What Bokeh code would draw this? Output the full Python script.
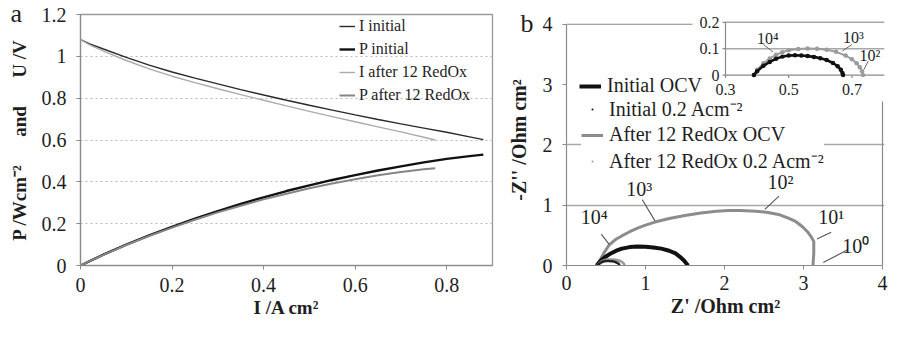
from bokeh.plotting import figure
from bokeh.layouts import row
from bokeh.models import (Range1d, FixedTicker, Legend, LegendItem, LabelSet,
                          ColumnDataSource, NumeralTickFormatter)
from bokeh.core.properties import value
from bokeh.embed import file_html
from bokeh.resources import INLINE

SERIF = "Liberation Serif"

# ---------------- Panel a data (I-V and power curves) ----------------
I_INIT = [0.00, 0.02, 0.05, 0.10, 0.15, 0.20, 0.25, 0.30, 0.35, 0.40, 0.45, 0.50,
          0.55, 0.60, 0.65, 0.70, 0.75, 0.80, 0.85, 0.88]
U_INIT = [1.080, 1.060, 1.035, 0.995, 0.958, 0.925, 0.896, 0.868, 0.841, 0.815, 0.790, 0.766,
          0.743, 0.720, 0.698, 0.677, 0.657, 0.637, 0.615, 0.602]
P_INIT = [0.000, 0.021, 0.052, 0.100, 0.144, 0.185, 0.224, 0.260, 0.294, 0.326, 0.356, 0.383,
          0.409, 0.432, 0.454, 0.474, 0.493, 0.510, 0.523, 0.530]
I_AFTER = [0.00, 0.02, 0.05, 0.10, 0.15, 0.20, 0.25, 0.30, 0.35, 0.40, 0.45, 0.50,
           0.55, 0.60, 0.65, 0.70, 0.75, 0.775]
U_AFTER = [1.080, 1.055, 1.025, 0.980, 0.940, 0.905, 0.874, 0.845, 0.817, 0.790, 0.763, 0.737,
           0.712, 0.687, 0.663, 0.639, 0.613, 0.600]
P_AFTER = [0.000, 0.021, 0.051, 0.098, 0.141, 0.181, 0.219, 0.254, 0.286, 0.316, 0.343, 0.369,
           0.392, 0.412, 0.431, 0.447, 0.460, 0.465]
A_SERIES = ["I initial", "P initial", "I after 12 RedOx", "P after 12 RedOx"]
A_XTICKS = [0, 0.2, 0.4, 0.6, 0.8]
A_XTICK_LABELS = ["0", "0.2", "0.4", "0.6", "0.8"]
A_YTICKS = [0, 0.2, 0.4, 0.6, 0.8, 1.0, 1.2]
A_YTICK_LABELS = ["0", "0.2", "0.4", "0.6", "0.8", "1", "1.2"]
A_XLABEL = "I /A cm\u00b2"
A_YLABEL = "P /Wcm\u207b\u00b2\u2003\u2002and\u2003\u2002U /V"
A_PANEL = "a"

# ---------------- Panel b data (impedance spectra) ----------------
ZRE_INIT_OCV = [0.38, 0.40, 0.42, 0.45, 0.50, 0.56, 0.63, 0.70, 0.80, 0.90, 1.00, 1.10,
                1.20, 1.30, 1.38, 1.44, 1.49, 1.52, 1.54]
ZIM_INIT_OCV = [0.00, 0.03, 0.06, 0.10, 0.15, 0.20, 0.245, 0.28, 0.305, 0.315, 0.312, 0.30,
                0.28, 0.245, 0.20, 0.14, 0.08, 0.03, 0.00]
ZRE_AFTER_OCV = [0.38, 0.42, 0.47, 0.54, 0.62, 0.70, 0.80, 0.90, 1.00, 1.12, 1.30, 1.50,
                 1.70, 1.90, 2.05, 2.20, 2.40, 2.55, 2.70, 2.80, 2.90, 2.98, 3.05, 3.10,
                 3.13, 3.13, 3.12]
ZIM_AFTER_OCV = [0.00, 0.08, 0.20, 0.34, 0.43, 0.49, 0.56, 0.62, 0.67, 0.72, 0.78, 0.83,
                 0.87, 0.90, 0.91, 0.91, 0.90, 0.88, 0.84, 0.79, 0.73, 0.65, 0.56, 0.47,
                 0.40, 0.20, 0.00]
ZRE_INIT_02 = [0.390, 0.400, 0.420, 0.440, 0.460, 0.480, 0.500, 0.520, 0.540, 0.560, 0.580,
               0.600, 0.620, 0.640, 0.655, 0.665, 0.670, 0.672]
ZIM_INIT_02 = [0.000, 0.015, 0.035, 0.050, 0.062, 0.070, 0.074, 0.075, 0.074, 0.072, 0.069,
               0.064, 0.057, 0.046, 0.034, 0.020, 0.008, 0.000]
ZRE_AFTER_02 = [0.390, 0.400, 0.420, 0.440, 0.460, 0.480, 0.500, 0.530, 0.560, 0.590, 0.620,
                0.650, 0.680, 0.700, 0.715, 0.725, 0.732, 0.735]
ZIM_AFTER_02 = [0.000, 0.020, 0.045, 0.063, 0.077, 0.087, 0.094, 0.099, 0.101, 0.100, 0.096,
                0.088, 0.074, 0.060, 0.045, 0.030, 0.015, 0.000]
B_SERIES = ["Initial OCV", "Initial 0.2 Acm\u207b\u00b2", "After 12 RedOx OCV",
            "After 12 RedOx 0.2 Acm\u207b\u00b2"]
B_TICKS = [0, 1, 2, 3, 4]
B_TICK_LABELS = ["0", "1", "2", "3", "4"]
B_GRID = [1, 2]
B_XLABEL = "Z' /Ohm cm\u00b2"
B_YLABEL = "-Z'' /Ohm cm\u00b2"
B_PANEL = "b"

# frequency annotations (main panel b)
FREQ_LABELS = ["10\u2074", "10\u00b3", "10\u00b2", "10\u00b9", "10\u2070"]
FREQ_LABEL_X = [0.35, 0.92, 2.71, 3.35, 3.66]
FREQ_LABEL_Y = [0.80, 1.26, 1.39, 0.80, 0.32]
FREQ_LEAD_X0 = [0.44, 0.96, 2.69, 3.35, 3.56]
FREQ_LEAD_Y0 = [0.52, 1.09, 1.15, 0.55, 0.26]
FREQ_LEAD_X1 = [0.54, 1.12, 2.51, 3.17, 3.25]
FREQ_LEAD_Y1 = [0.35, 0.74, 0.93, 0.44, 0.05]

# inset
INSET_XTICKS = [0.3, 0.5, 0.7]
INSET_XTICK_LABELS = ["0.3", "0.5", "0.7"]
INSET_YTICKS = [0, 0.1, 0.2]
INSET_YTICK_LABELS = ["0", "0.1", "0.2"]
INSET_FREQ_LABELS = ["10\u2074", "10\u00b3", "10\u00b2"]
INSET_LABEL_X = [0.434, 0.705, 0.757]
INSET_LABEL_Y = [0.140, 0.144, 0.074]
INSET_LEAD_X0 = [0.420, 0.700, 0.752]
INSET_LEAD_Y0 = [0.116, 0.116, 0.053]
INSET_LEAD_X1 = [0.450, 0.670, 0.738]
INSET_LEAD_Y1 = [0.088, 0.091, 0.021]

TXT = "#1e1e1e"
AXC = "#8a8a8a"


def style_axis(ax, ticks, labels, font_size, label_size, tick_standoff, label_standoff):
    ax.ticker = FixedTicker(ticks=ticks)
    ax.formatter = NumeralTickFormatter(format="0.[0]")
    ax.major_label_overrides = dict(zip(ticks, labels))
    ax.minor_tick_line_color = None
    ax.major_tick_in = 0
    ax.major_tick_out = 4
    ax.major_tick_line_color = AXC
    ax.axis_line_color = AXC
    ax.axis_line_width = 1.2
    ax.major_label_text_font = SERIF
    ax.major_label_text_font_size = font_size
    ax.major_label_text_color = TXT
    ax.major_label_standoff = tick_standoff
    ax.axis_label_text_font = SERIF
    ax.axis_label_text_font_style = "bold"
    ax.axis_label_text_font_size = label_size
    ax.axis_label_text_color = TXT
    ax.axis_label_standoff = label_standoff


def style_panel_title(t, text, offset, standoff):
    t.text = text
    t.align = "left"
    t.offset = offset
    t.standoff = standoff
    t.vertical_align = "bottom"
    t.text_font = SERIF
    t.text_font_size = "26px"
    t.text_font_style = "normal"
    t.text_color = TXT


H = 325

# ======================= Panel a =======================
WA = 496
A_LEFT, A_RIGHT, A_TOP, A_BOTTOM = 80, 4, 14, 60
FW_A = WA - A_LEFT - A_RIGHT
FH_A = H - A_TOP - A_BOTTOM
pa = figure(width=WA, height=H, x_range=Range1d(0, 0.9), y_range=Range1d(0, 1.2),
            output_backend="svg", toolbar_location=None,
            min_border_left=A_LEFT, min_border_right=A_RIGHT,
            min_border_top=A_TOP, min_border_bottom=A_BOTTOM)
style_panel_title(pa.title, A_PANEL, -70, -27)
pa.outline_line_color = "#9a9a9a"
pa.outline_line_width = 1.3
pa.xgrid.visible = False
pa.ygrid.ticker = FixedTicker(ticks=A_YTICKS[1:-1])
pa.ygrid.grid_line_color = "#b8b8b8"
pa.ygrid.grid_line_dash = "2 3"
pa.ygrid.grid_line_width = 1.2
pa.xaxis.axis_label = A_XLABEL
pa.yaxis.axis_label = A_YLABEL
style_axis(pa.xaxis[0], A_XTICKS, A_XTICK_LABELS, "20px", "19px", 8, 2)
style_axis(pa.yaxis[0], A_YTICKS, A_YTICK_LABELS, "20px", "19px", 10, 9)

ra1 = pa.line(I_INIT, U_INIT, line_color="#2a2a2a", line_width=1.4)
ra3 = pa.line(I_AFTER, U_AFTER, line_color="#ababab", line_width=1.4)
ra2 = pa.line(I_INIT, P_INIT, line_color="#111111", line_width=2.4)
ra4 = pa.line(I_AFTER, P_AFTER, line_color="#868686", line_width=2.0)

A_LEG_PAD, A_LEG_SP, A_ITEM_H = 1, 3, 20
a_leg_h = 2 * A_LEG_PAD + 4 * A_ITEM_H + 3 * A_LEG_SP
leg_a = Legend(items=[LegendItem(label=value(s), renderers=[r])
                      for s, r in zip(A_SERIES, [ra1, ra2, ra3, ra4])],
               location=(259, FH_A - a_leg_h))
leg_a.border_line_color = None
leg_a.background_fill_alpha = 0
leg_a.padding = A_LEG_PAD
leg_a.spacing = A_LEG_SP
leg_a.margin = 0
leg_a.glyph_width = 16
leg_a.glyph_height = A_ITEM_H
leg_a.label_height = A_ITEM_H
leg_a.label_standoff = 4
leg_a.label_text_font = SERIF
leg_a.label_text_font_size = "16px"
leg_a.label_text_color = TXT
pa.add_layout(leg_a)

# ======================= Panel b =======================
WB = 888 - WA
B_LEFT, B_RIGHT, B_TOP, B_BOTTOM = 70, 4, 8, 59
FW_B = WB - B_LEFT - B_RIGHT
FH_B = H - B_TOP - B_BOTTOM
EXTRA_TOP_PX = 10     # frame extends above y=4 so the inset's top label fits
EXTRA_RIGHT_PX = 2
BXMAX, BYMAX = B_TICKS[-1], B_TICKS[-1]
BX1 = BXMAX * FW_B / (FW_B - EXTRA_RIGHT_PX)
BY1 = BYMAX * FH_B / (FH_B - EXTRA_TOP_PX)
pb = figure(width=WB, height=H, x_range=Range1d(0, BX1), y_range=Range1d(0, BY1),
            output_backend="svg", toolbar_location=None,
            min_border_left=B_LEFT, min_border_right=B_RIGHT,
            min_border_top=B_TOP, min_border_bottom=B_BOTTOM)
style_panel_title(pb.title, B_PANEL, -46, -47)
pb.outline_line_color = None
pb.xgrid.visible = False
pb.ygrid.ticker = FixedTicker(ticks=B_GRID)
pb.ygrid.grid_line_color = "#a8a8a8"
pb.ygrid.grid_line_width = 1.4
pb.xaxis.axis_label = B_XLABEL
pb.yaxis.axis_label = B_YLABEL
style_axis(pb.xaxis[0], B_TICKS, B_TICK_LABELS, "20px", "20px", 6, 2)
style_axis(pb.yaxis[0], B_TICKS, B_TICK_LABELS, "20px", "20px", 10, 10)
pb.xaxis.bounds = (0, BXMAX)
pb.yaxis.bounds = (0, BYMAX)

# plot-area border (top and right) at the axis limits
pb.segment(x0=[0, BXMAX], y0=[BYMAX, 0], x1=[BXMAX, BXMAX], y1=[BYMAX, BYMAX],
           line_color=AXC, line_width=1.2)

# main curves
r_after_ocv = pb.line(ZRE_AFTER_OCV, ZIM_AFTER_OCV, line_color="#8c8c8c", line_width=3)
r_init_ocv = pb.line(ZRE_INIT_OCV, ZIM_INIT_OCV, line_color="#111111", line_width=4)
pb.line(ZRE_AFTER_02, ZIM_AFTER_02, line_color="#9a9a9a", line_width=2.5)
pb.line(ZRE_INIT_02, ZIM_INIT_02, line_color="#222222", line_width=2.5)

pb.segment(x0=FREQ_LEAD_X0, y0=FREQ_LEAD_Y0, x1=FREQ_LEAD_X1, y1=FREQ_LEAD_Y1,
           line_color="#555555", line_width=1.1)
pb.text(x=FREQ_LABEL_X, y=FREQ_LABEL_Y, text=FREQ_LABELS, text_font=value(SERIF),
        text_font_size="20px", text_align="center", text_baseline="middle", text_color=TXT)

# inset mapped onto extra ranges
IN_X0_PX = 159      # frame-relative px of the inset's x origin
IN_PPU_X = 316.0    # px per inset x unit
IN_TOP_PX = 8       # frame-relative px (from top) of the inset's top line
IN_PPU_Y = 271.5    # px per inset y unit
ix0 = INSET_XTICKS[0] - IN_X0_PX / IN_PPU_X
ix1 = ix0 + FW_B / IN_PPU_X
iy1 = INSET_YTICKS[-1] + IN_TOP_PX / IN_PPU_Y
iy0 = iy1 - FH_B / IN_PPU_Y
pb.extra_x_ranges = {"ix": Range1d(ix0, ix1)}
pb.extra_y_ranges = {"iy": Range1d(iy0, iy1)}
IR = dict(x_range_name="ix", y_range_name="iy")

ox, oy = INSET_XTICKS[0], INSET_YTICKS[0]
ytop = INSET_YTICKS[-1]
pb.quad(left=[ox - 33 / IN_PPU_X], right=[ix1 + 0.1], bottom=[oy - 27 / IN_PPU_Y],
        top=[iy1 + 0.1], fill_color="white", line_color=None, **IR)
pb.segment(x0=[ox] * (len(INSET_YTICKS) - 1), y0=INSET_YTICKS[1:],
           x1=[ix1] * (len(INSET_YTICKS) - 1), y1=INSET_YTICKS[1:],
           line_color="#a8a8a8", line_width=1.4, **IR)
pb.segment(x0=[ox, ox], y0=[oy, oy], x1=[ox, ix1], y1=[ytop, oy],
           line_color=AXC, line_width=1.2, **IR)
pb.segment(x0=INSET_XTICKS, y0=[oy] * 3, x1=INSET_XTICKS, y1=[oy - 3 / IN_PPU_Y] * 3,
           line_color=AXC, line_width=1.2, **IR)
pb.segment(x0=[ox - 3 / IN_PPU_X] * 3, y0=INSET_YTICKS, x1=[ox] * 3, y1=INSET_YTICKS,
           line_color=AXC, line_width=1.2, **IR)

pb.line(ZRE_AFTER_02, ZIM_AFTER_02, line_color="#9c9c9c", line_width=2.0, **IR)
r_after_02 = pb.scatter(ZRE_AFTER_02, ZIM_AFTER_02, marker="dot", size=18,
                        color="#9c9c9c", **IR)
pb.line(ZRE_INIT_02, ZIM_INIT_02, line_color="#111111", line_width=2.6, **IR)
r_init_02 = pb.scatter(ZRE_INIT_02, ZIM_INIT_02, marker="dot", size=18,
                       color="#111111", **IR)

pb.segment(x0=INSET_LEAD_X0, y0=INSET_LEAD_Y0, x1=INSET_LEAD_X1, y1=INSET_LEAD_Y1,
           line_color="#666666", line_width=1.0, **IR)
pb.text(x=INSET_LABEL_X, y=INSET_LABEL_Y, text=INSET_FREQ_LABELS, text_font=value(SERIF),
        text_font_size="16px", text_align="center", text_baseline="middle",
        text_color=TXT, **IR)

xt_src = ColumnDataSource(dict(x=INSET_XTICKS, y=[oy] * len(INSET_XTICKS),
                               text=INSET_XTICK_LABELS))
pb.add_layout(LabelSet(x="x", y="y", text="text", source=xt_src, y_offset=-14,
                       text_font=SERIF, text_font_size="16px", text_color=TXT,
                       text_align="center", text_baseline="middle", **IR))
yt_src = ColumnDataSource(dict(x=[ox] * len(INSET_YTICKS), y=INSET_YTICKS,
                               text=INSET_YTICK_LABELS))
pb.add_layout(LabelSet(x="x", y="y", text="text", source=yt_src, x_offset=-6,
                       text_font=SERIF, text_font_size="16px", text_color=TXT,
                       text_align="right", text_baseline="middle",
                       background_fill_color="white", **IR))

B_ITEM_H = 25


def style_legend(leg, pad, opaque):
    leg.border_line_color = None
    leg.background_fill_color = "white"
    leg.background_fill_alpha = 1 if opaque else 0
    leg.padding = pad
    leg.spacing = 0
    leg.margin = 0
    leg.glyph_width = 22
    leg.glyph_height = 20
    leg.label_height = B_ITEM_H
    leg.label_standoff = 6
    leg.label_text_font = SERIF
    leg.label_text_font_size = "20px"
    leg.label_text_color = TXT


# first legend row (transparent so the inset tick labels stay visible)
B1_PAD = 2
b1_h = 2 * B1_PAD + B_ITEM_H
b1_top = 76.5 - B_ITEM_H / 2 - B1_PAD
leg_b1 = Legend(items=[LegendItem(label=value(B_SERIES[0]), renderers=[r_init_ocv])],
                location=(13, FH_B - b1_top - b1_h))
style_legend(leg_b1, B1_PAD, False)
pb.add_layout(leg_b1)

# remaining rows on an opaque box that hides the grid line behind it
b2_h = 3 * B_ITEM_H
b2_top = 76.5 + B_ITEM_H - B_ITEM_H / 2 + 3
leg_b2 = Legend(items=[LegendItem(label=value(B_SERIES[1]), renderers=[r_init_02]),
                       LegendItem(label=value(B_SERIES[2]), renderers=[r_after_ocv]),
                       LegendItem(label=value(B_SERIES[3]), renderers=[r_after_02])],
                location=(15, FH_B - b2_top - b2_h))
style_legend(leg_b2, 0, True)
pb.add_layout(leg_b2)

layout = row(pa, pb)
open("out.html", "w").write(file_html(layout, INLINE))
